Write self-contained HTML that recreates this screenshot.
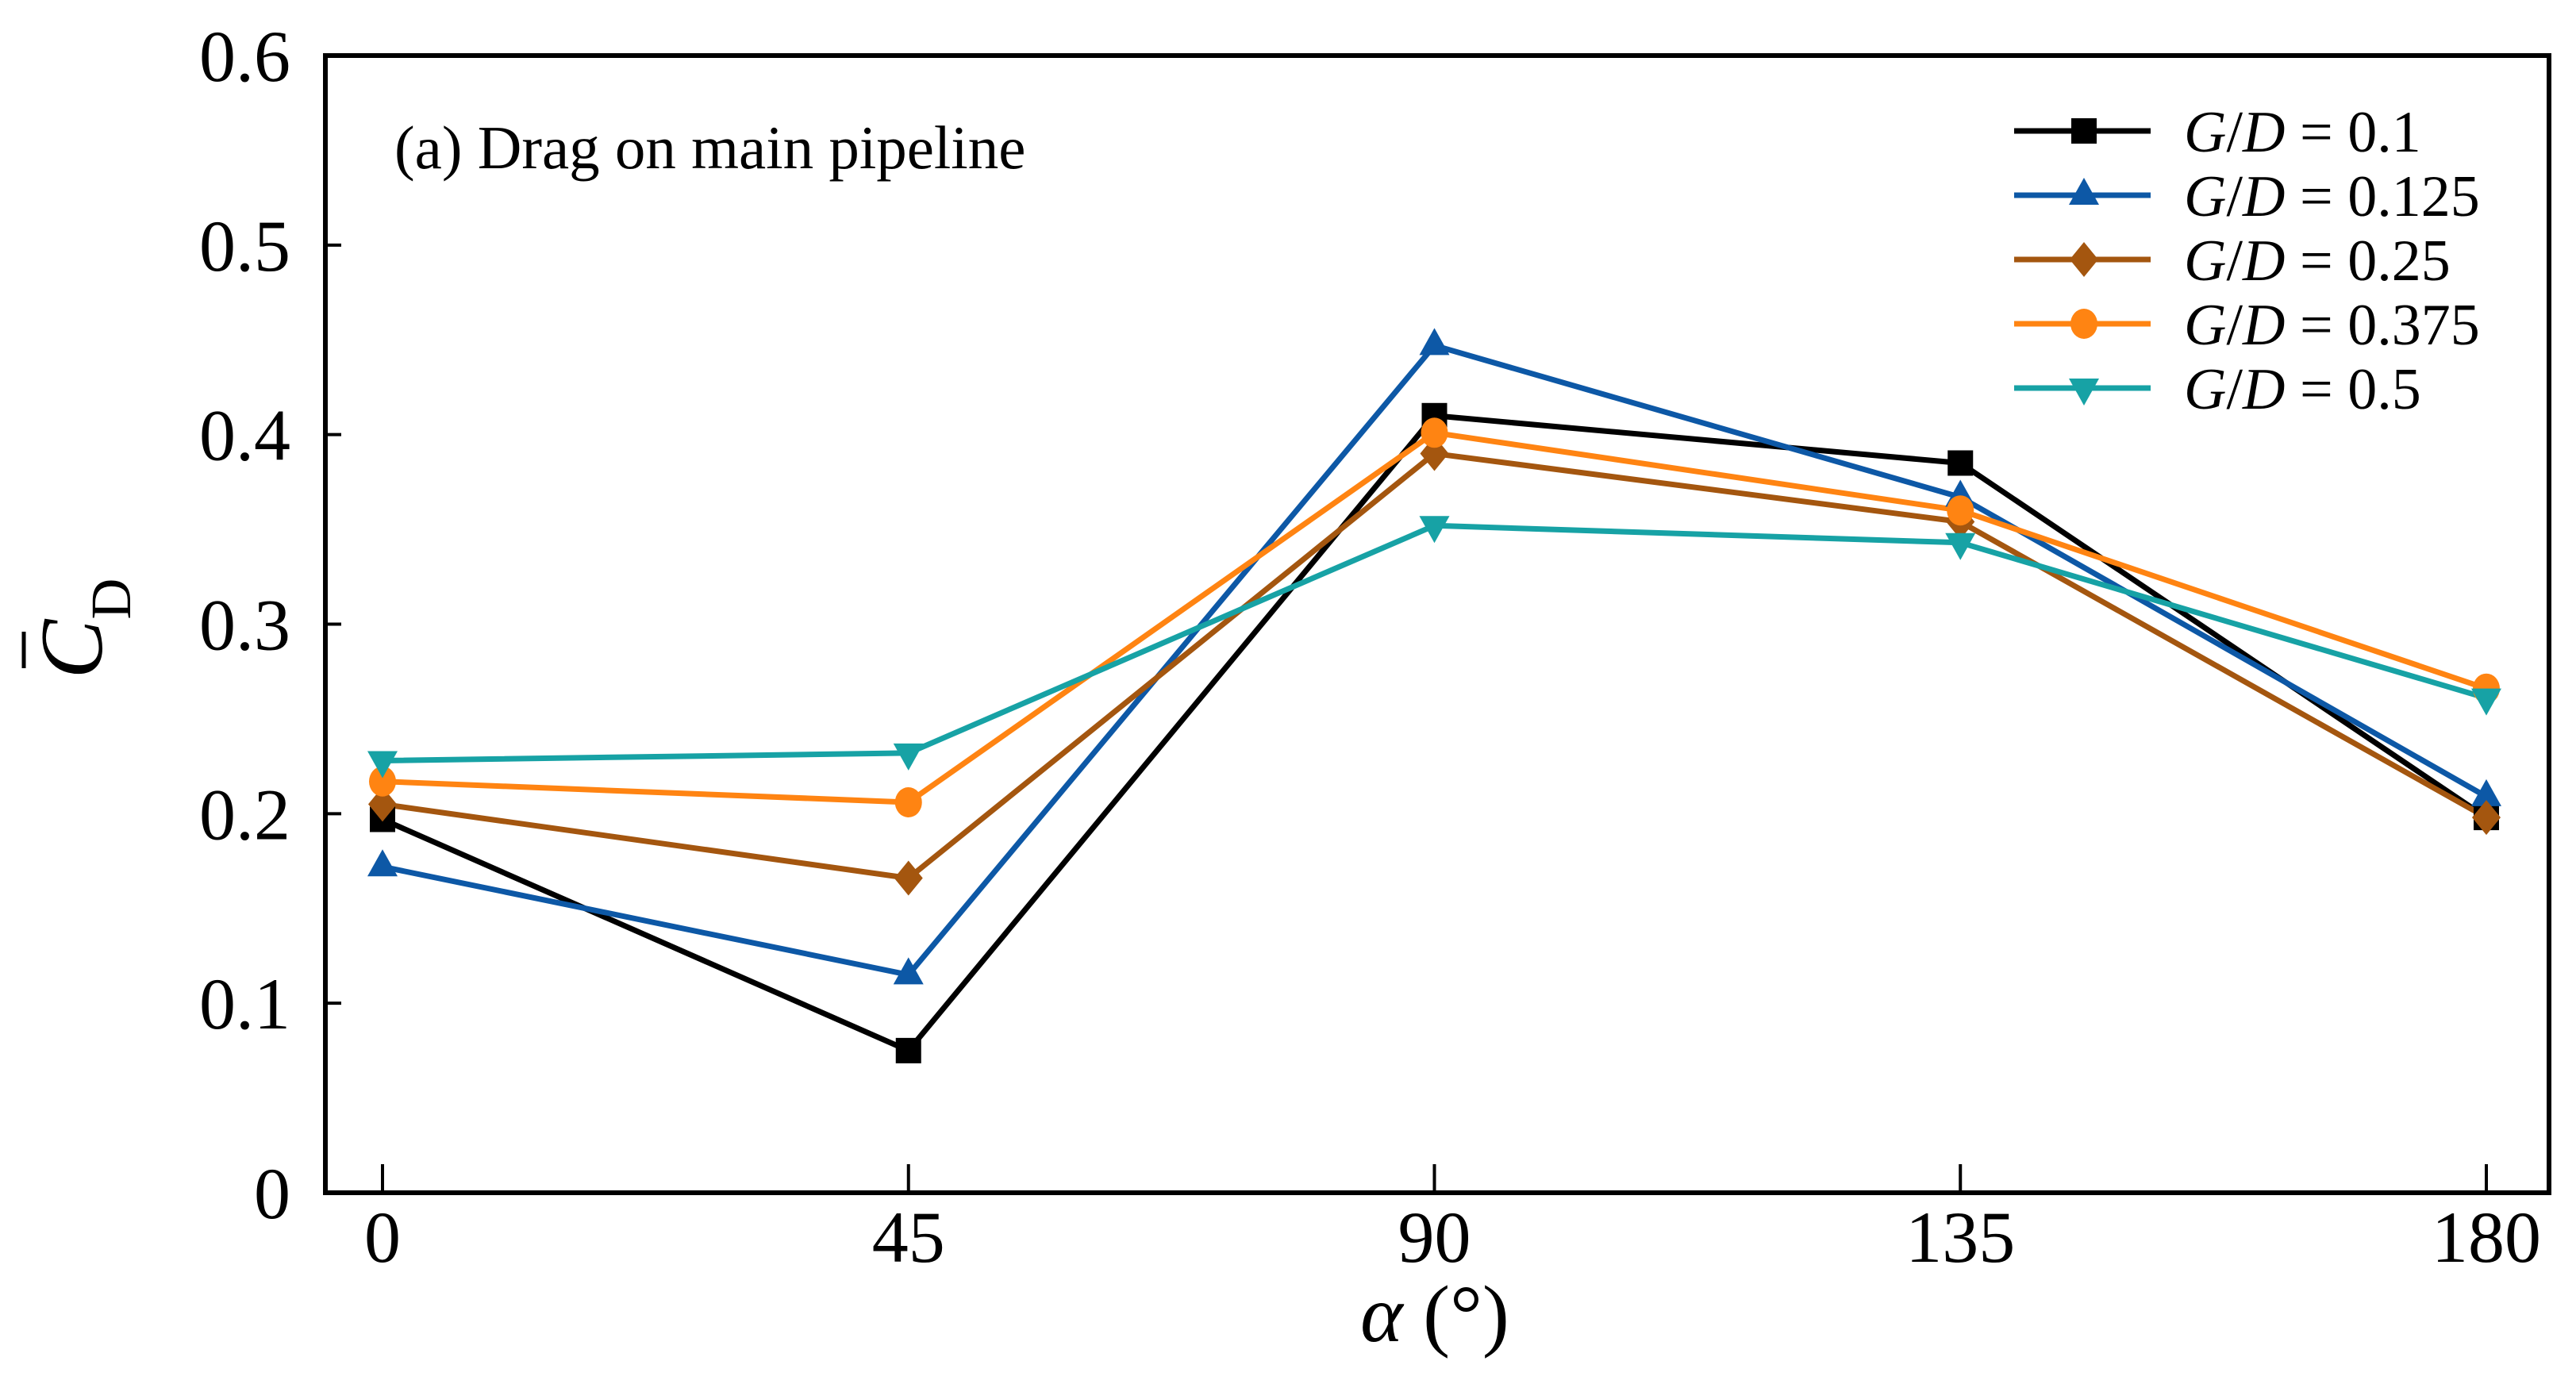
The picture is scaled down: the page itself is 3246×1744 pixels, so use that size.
<!DOCTYPE html>
<html><head><meta charset="utf-8"><style>
html,body{margin:0;padding:0;background:#fff;}
svg{display:block;font-family:"Liberation Serif",serif;}
</style></head><body>
<svg id="chart" width="3246" height="1744" viewBox="0 0 3246 1744" xmlns="http://www.w3.org/2000/svg">
<rect x="0" y="0" width="3246" height="1744" fill="#fff"/>
<g id="plot"></g>
<text x="497" y="212" font-size="77">(a) Drag on main pipeline</text>
<g transform="translate(128,792) rotate(-90)">
<text x="0" y="0" text-anchor="middle" font-size="112"><tspan font-style="italic">C</tspan><tspan font-size="72" dy="36">D</tspan></text>
<line x1="-50" y1="-98" x2="-4" y2="-98" stroke="#000" stroke-width="5"/>
</g>
<text x="1808" y="1690" text-anchor="middle" font-size="102"><tspan font-style="italic">α</tspan> (°)</text>
</svg>
<script>
const categories = [0, 45, 90, 135, 180];
const seriesNames = ["G/D = 0.1", "G/D = 0.125", "G/D = 0.25", "G/D = 0.375", "G/D = 0.5"];
const s01 = [0.197, 0.075, 0.410, 0.385, 0.198];
const s0125 = [0.172, 0.115, 0.447, 0.367, 0.209];
const s025 = [0.205, 0.166, 0.390, 0.354, 0.198];
const s0375 = [0.217, 0.206, 0.401, 0.360, 0.266];
const s05 = [0.228, 0.232, 0.352, 0.343, 0.261];
const yTicks = ["0", "0.1", "0.2", "0.3", "0.4", "0.5", "0.6"];
const xTicks = ["0", "45", "90", "135", "180"];

const NS = "http://www.w3.org/2000/svg";
const L = 410, R = 3212, T = 70, B = 1503;
const x = v => 482 + (v / 180) * (3133 - 482);
const y = v => B - (v / 0.6) * (B - T);
const g = document.getElementById('plot');
function mk(tag, attrs) { const e = document.createElementNS(NS, tag); for (const k in attrs) e.setAttribute(k, attrs[k]); g.appendChild(e); return e; }

const series = [s01, s0125, s025, s0375, s05];
const colors = ["#000000", "#0d58a6", "#a4560f", "#ff8412", "#17a2a5"];
const shapes = ["square", "tri", "diamond", "circle", "tridown"];
const keys = ["0-1", "0-125", "0-25", "0-375", "0-5"];

function marker(shape, cx, cy, color) {
  const s = 16;
  let e;
  if (shape === "square") e = mk('rect', {x: cx - s, y: cy - s, width: 2 * s, height: 2 * s, fill: color});
  else if (shape === "circle") e = mk('ellipse', {cx: cx, cy: cy, rx: 17, ry: 19, fill: color});
  else if (shape === "diamond") e = mk('polygon', {points: `${cx},${cy - 22} ${cx + 18},${cy} ${cx},${cy + 22} ${cx - 18},${cy}`, fill: color});
  else if (shape === "tri") e = mk('polygon', {points: `${cx},${cy - 22} ${cx + 19},${cy + 12} ${cx - 19},${cy + 12}`, fill: color});
  else e = mk('polygon', {points: `${cx},${cy + 22} ${cx + 19},${cy - 12} ${cx - 19},${cy - 12}`, fill: color});
  return e;
}

yTicks.forEach((t, i) => {
  const v = i * 0.1;
  const tk = mk('line', {x1: L, y1: y(v), x2: L + 20, y2: y(v), stroke: '#000', 'stroke-width': 4});
  
  
  const tx = mk('text', {x: 366, y: y(v) + 32, 'text-anchor': 'end', 'font-size': 92});
  tx.textContent = t;
  
  
});
xTicks.forEach((t, i) => {
  const v = categories[i];
  const tk = mk('line', {x1: x(v), y1: B, x2: x(v), y2: B - 36, stroke: '#000', 'stroke-width': 4});
  
  
  const tx = mk('text', {x: x(v), y: 1590, 'text-anchor': 'middle', 'font-size': 92});
  tx.textContent = t;
  
  
});

series.forEach((vals, si) => {
  const pts = vals.map((v, i) => `${x(categories[i])},${y(v)}`).join(' ');
  const pl = mk('polyline', {points: pts, fill: 'none', stroke: colors[si], 'stroke-width': 7, 'stroke-linejoin': 'round'});
  
  
});
series.forEach((vals, si) => {
  vals.forEach((v, i) => {
    const m = marker(shapes[si], x(categories[i]), y(v), colors[si]);
    
    
  });
});

const fr = mk('rect', {x: L, y: T, width: R - L, height: B - T, fill: 'none', stroke: '#000', 'stroke-width': 6});



seriesNames.forEach((n, si) => {
  const ly = 165 + si * 81;
  const ll = mk('line', {x1: 2538, y1: ly, x2: 2710, y2: ly, stroke: colors[si], 'stroke-width': 7});
  
  
  const lm = marker(shapes[si], 2626, ly, colors[si]);
  
  
  const lt = mk('text', {x: 2752, y: ly + 26, 'font-size': 74});
  lt.innerHTML = '<tspan font-style="italic">G</tspan>/<tspan font-style="italic">D</tspan>' + n.slice(3);
  
  
});
</script>
</body></html>
